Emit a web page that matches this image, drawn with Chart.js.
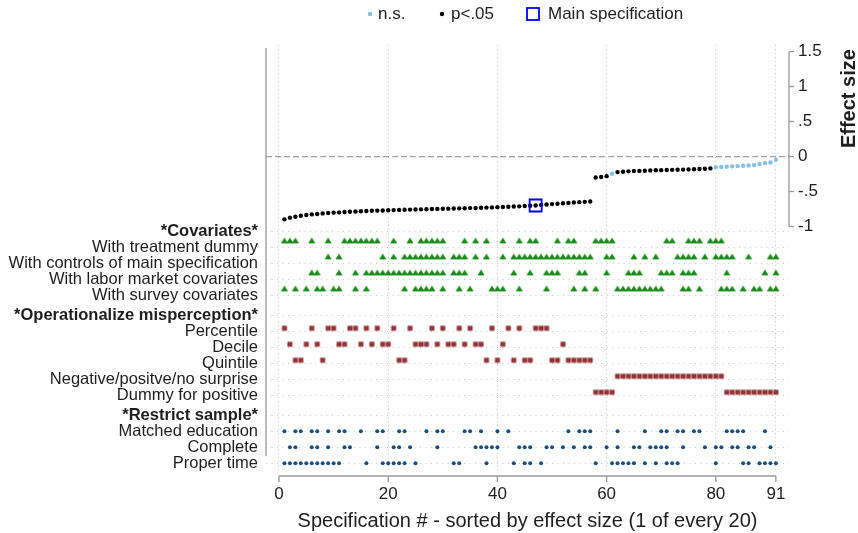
<!DOCTYPE html>
<html>
<head>
<meta charset="utf-8">
<script src="https://cdn.jsdelivr.net/npm/chart.js@4.4.1/dist/chart.umd.min.js"></script>
<style>
html,body{margin:0;padding:0;background:#fff;}
#wrap{width:858px;height:533px;}
</style>
</head>
<body>
<div id="wrap"><canvas id="chart" width="858" height="533"></canvas></div>
<script>
// ---------------- DATA ----------------
// Effect size of each specification, sorted (spec # 1..91)
const effectSize = [
  -0.895, -0.871, -0.857, -0.843, -0.833, -0.824, -0.818, -0.810, -0.804, -0.799,
  -0.795, -0.790, -0.786, -0.782, -0.779, -0.776, -0.773, -0.770, -0.768, -0.765,
  -0.763, -0.760, -0.758, -0.756, -0.754, -0.752, -0.750, -0.748, -0.746, -0.744,
  -0.742, -0.740, -0.738, -0.736, -0.734, -0.732, -0.730, -0.727, -0.724, -0.721,
  -0.718, -0.715, -0.712, -0.709, -0.705, -0.701, -0.697, -0.690, -0.683, -0.677,
  -0.671, -0.664, -0.660, -0.654, -0.649, -0.645, -0.640, -0.296, -0.290, -0.278,
  -0.244, -0.220, -0.215, -0.209, -0.205, -0.203, -0.200, -0.197, -0.194, -0.192,
  -0.190, -0.188, -0.186, -0.184, -0.181, -0.179, -0.176, -0.172, -0.167, -0.150,
  -0.146, -0.142, -0.138, -0.134, -0.129, -0.124, -0.118, -0.104, -0.091, -0.082,
  -0.045
];
// specifications that are not significant (n.s.)
const notSignificantSpecs = [61, 80, 81, 82, 83, 84, 85, 86, 87, 88, 89, 90, 91];
const mainSpecification = 47;

const xTickValues = [0, 20, 40, 60, 80, 91];
const effectTickValues = [-1, -0.5, 0, 0.5, 1, 1.5];

const rowLabels = [
  "*Covariates*", "With treatment dummy", "With controls of main specification",
  "With labor market covariates", "With survey covariates",
  "*Operationalize misperception*", "Percentile", "Decile", "Quintile",
  "Negative/positve/no surprise", "Dummy for positive",
  "*Restrict sample*", "Matched education", "Complete", "Proper time"
];
const headerRows = [0, 5, 11];

// specs in which each option is used
const withTreatmentDummy = [1,2,3,6,9,12,13,14,15,16,17,18,21,24,26,27,28,29,30,34,36,38,41,44,46,47,51,53,54,58,59,60,61,71,72,75,76,77,79,80,81];
const withControlsMain = [9,11,19,21,23,24,25,26,27,28,29,30,32,33,34,36,38,41,43,44,45,46,47,48,49,50,51,52,53,54,55,56,57,60,61,65,67,69,73,74,75,76,78,80,81,82,83,86,90,91];
const withLaborMarket = [6,7,11,14,16,17,18,19,20,21,22,23,24,25,26,27,28,29,30,32,33,34,37,43,46,49,50,51,55,56,60,64,65,66,70,71,72,74,75,76,82,89,91];
const withSurvey = [1,3,5,7,8,10,11,14,16,23,25,26,27,28,30,33,35,39,40,41,44,49,54,56,58,62,63,64,65,66,67,68,69,70,74,75,77,81,82,83,85,87,88,90,91];
const percentile = [1,6,9,10,13,14,16,18,21,24,28,30,33,35,39,42,44,47,48,49];
const decile = [2,5,7,11,12,15,17,19,20,25,26,27,29,31,32,34,36,37,41,52];
const quintile = [3,4,8,22,23,38,40,43,45,46,50,51,53,54,55,56,57];
const negPosNoSurprise = [62,63,64,65,66,67,68,69,70,71,72,73,74,75,76,77,78,79,80,81];
const dummyPositive = [58,59,60,61,82,83,84,85,86,87,88,89,90,91];
const matchedEducation = [1,3,4,6,7,9,11,12,15,18,19,22,23,27,29,30,34,35,37,40,42,53,55,56,57,62,67,70,71,73,74,76,77,82,83,84,85,89];
const completeSample = [2,3,6,7,9,12,13,18,21,22,24,29,36,37,38,39,40,44,45,46,49,50,52,54,56,57,60,62,65,66,68,69,70,71,74,78,80,81,83,84,86,87,90];
const properTime = [1,2,3,4,5,6,7,8,9,10,11,16,19,20,21,22,23,25,32,33,38,43,45,46,48,58,61,62,63,64,65,67,69,71,72,73,80,85,86,88,89,90,91];

// ---------------- LAYOUT / STYLE ----------------
const FONT = "'Liberation Sans', Arial, Helvetica, sans-serif";
const TEXT = '#1e1e1e';
const AXIS = '#9a9a9a';
const GRID = '#c6c6c6';
const C_NS = '#86c0ea', C_SIG = '#000000', C_MAIN = '#0000ff';
const C_GREEN = '#138a13', C_RED = '#933238', C_NAVY = '#1d4f7c';

const Y_MIN = -4.476, Y_MAX = 1.596;
const X_MIN = -2.38, X_MAX = 93.4;
const ROW_TOP = -1.066, ROW_STEP = 0.2286, GROUP_GAP = 0.25;

// vertical position (axis units) of every label row
const rowY = (() => {
  const out = []; let slot = 0;
  rowLabels.forEach((_, k) => {
    if (k > 0) slot += 1 + (headerRows.includes(k) ? GROUP_GAP : 0);
    out.push(ROW_TOP - slot * ROW_STEP);
  });
  return out;
})();

function markerCanvas(w, h, draw) {
  const c = document.createElement('canvas');
  c.width = w; c.height = h;
  draw(c.getContext('2d'));
  return c;
}
// triangles sit a little above their row line, squares slightly above
const triImg = markerCanvas(10, 24, g => {
  g.fillStyle = C_GREEN; g.beginPath();
  g.moveTo(5, 2.2); g.lineTo(8.6, 8.0); g.lineTo(1.4, 8.0); g.closePath(); g.fill();
});
const sqImg = markerCanvas(8, 14, g => {
  g.fillStyle = C_RED; g.fillRect(1.5, 1.4, 5, 5);
});

const indicatorRows = [
  {row: 1, specs: withTreatmentDummy, style: 'tri'},
  {row: 2, specs: withControlsMain, style: 'tri'},
  {row: 3, specs: withLaborMarket, style: 'tri'},
  {row: 4, specs: withSurvey, style: 'tri'},
  {row: 6, specs: percentile, style: 'sq'},
  {row: 7, specs: decile, style: 'sq'},
  {row: 8, specs: quintile, style: 'sq'},
  {row: 9, specs: negPosNoSurprise, style: 'sq'},
  {row: 10, specs: dummyPositive, style: 'sq'},
  {row: 12, specs: matchedEducation, style: 'dot'},
  {row: 13, specs: completeSample, style: 'dot'},
  {row: 14, specs: properTime, style: 'dot'}
];

const datasets = [];
// main specification (drawn on top -> first)
datasets.push({
  label: 'Main specification',
  data: [{x: mainSpecification, y: effectSize[mainSpecification - 1]}],
  pointStyle: 'rect', pointRadius: 8.5, pointBorderWidth: 1.8,
  pointBorderColor: C_MAIN, pointBackgroundColor: 'rgba(0,0,0,0)'
});
const sigPts = [], nsPts = [];
effectSize.forEach((v, i) => {
  const p = {x: i + 1, y: v};
  (notSignificantSpecs.includes(i + 1) ? nsPts : sigPts).push(p);
});
datasets.push({label: 'p<.05', data: sigPts, pointStyle: 'circle', pointRadius: 2.2,
  pointBorderWidth: 0, pointBackgroundColor: C_SIG});
datasets.push({label: 'n.s.', data: nsPts, pointStyle: 'circle', pointRadius: 2.2,
  pointBorderWidth: 0, pointBackgroundColor: C_NS});
indicatorRows.forEach(r => {
  const ds = {label: rowLabels[r.row], data: r.specs.map(s => ({x: s, y: rowY[r.row]}))};
  if (r.style === 'tri') Object.assign(ds, {pointStyle: triImg});
  else if (r.style === 'sq') Object.assign(ds, {pointStyle: sqImg});
  else Object.assign(ds, {pointStyle: 'circle', pointRadius: 2, pointBorderWidth: 0, pointBackgroundColor: C_NAVY});
  datasets.push(ds);
});

const fmtEffect = v => {
  if (v === 0) return '0';
  const s = String(Math.abs(v)).replace(/^0\./, '.');
  return (v < 0 ? '-' : '') + s;
};

const decor = {
  id: 'decor',
  beforeDatasetsDraw(chart) {
    const {ctx, chartArea: a, scales: {y}} = chart;
    const y0 = y.getPixelForValue(0);
    ctx.save();
    ctx.strokeStyle = '#8a8a8a'; ctx.lineWidth = 1; ctx.setLineDash([6, 3]);
    ctx.beginPath(); ctx.moveTo(a.left, y0); ctx.lineTo(a.right, y0); ctx.stroke();
    ctx.restore();
  },
  afterDraw(chart) {
    const {ctx, chartArea: a, scales: {x, y}} = chart;
    ctx.save();
    ctx.strokeStyle = AXIS; ctx.lineWidth = 1.3; ctx.setLineDash([]);
    ctx.beginPath();
    // left axis line
    ctx.moveTo(a.left, a.top + 3); ctx.lineTo(a.left, a.bottom - 14);
    // right axis line (effect size range)
    ctx.moveTo(a.right, y.getPixelForValue(effectTickValues[0]));
    ctx.lineTo(a.right, y.getPixelForValue(effectTickValues[effectTickValues.length - 1]));
    // x axis line + ticks
    const ya = a.bottom + 6;
    ctx.moveTo(x.getPixelForValue(xTickValues[0]), ya);
    ctx.lineTo(x.getPixelForValue(xTickValues[xTickValues.length - 1]), ya);
    xTickValues.forEach(v => { const px = x.getPixelForValue(v); ctx.moveTo(px, ya); ctx.lineTo(px, ya + 6); });
    ctx.stroke();

    // right axis title
    ctx.fillStyle = TEXT;
    ctx.font = 'bold 20px ' + FONT;
    ctx.translate(855, y.getPixelForValue(0.83));
    ctx.rotate(-Math.PI / 2);
    ctx.textAlign = 'center'; ctx.textBaseline = 'alphabetic';
    ctx.fillText('Effect size', 0, 0);
    ctx.restore();

    // legend
    ctx.save();
    const ly = 14;
    ctx.font = '17px ' + FONT; ctx.fillStyle = TEXT;
    ctx.textAlign = 'left'; ctx.textBaseline = 'middle';
    ctx.fillStyle = C_NS; ctx.beginPath(); ctx.arc(370, ly, 2.2, 0, Math.PI * 2); ctx.fill();
    ctx.fillStyle = TEXT; ctx.fillText('n.s.', 378, ly);
    ctx.fillStyle = C_SIG; ctx.beginPath(); ctx.arc(442, ly, 2.2, 0, Math.PI * 2); ctx.fill();
    ctx.fillStyle = TEXT; ctx.fillText('p<.05', 451, ly);
    ctx.strokeStyle = C_MAIN; ctx.lineWidth = 1.8; ctx.strokeRect(527, ly - 6, 12, 12);
    ctx.fillText('Main specification', 548, ly);
    ctx.restore();
  }
};

Chart.defaults.font.family = FONT;
Chart.defaults.color = TEXT;

new Chart(document.getElementById('chart'), {
  type: 'scatter',
  data: {datasets},
  options: {
    responsive: false, animation: false, devicePixelRatio: 1,
    layout: {padding: {top: 45, left: 0, right: 0, bottom: 0}},
    plugins: {legend: {display: false}, tooltip: {enabled: false}},
    elements: {point: {hoverRadius: 0}},
    scales: {
      x: {
        type: 'linear', position: 'bottom', min: X_MIN, max: X_MAX,
        afterBuildTicks: s => { s.ticks = xTickValues.map(v => ({value: v})); },
        ticks: {callback: v => String(v), font: {size: 17}, padding: 14.5, autoSkip: false, maxRotation: 0, color: TEXT},
        grid: {color: GRID, lineWidth: 1, drawTicks: false, drawOnChartArea: true},
        border: {display: false, dash: [1, 3]},
        title: {display: true, text: 'Specification # - sorted by effect size (1 of every 20)',
          font: {size: 20}, color: TEXT, padding: {top: 0, bottom: 0}},
        afterFit: s => { s.height = 63; }
      },
      yRows: {
        type: 'linear', position: 'left', min: Y_MIN, max: Y_MAX,
        afterBuildTicks: s => {
          s.ticks = rowY.map((v, k) => ({value: v, row: k})).sort((a, b) => a.value - b.value);
        },
        ticks: {
          autoSkip: false, padding: 8, color: TEXT,
          callback: (v, i, ticks) => rowLabels[ticks[i].row],
          font: c => ({size: 16.5, family: FONT,
            weight: (c.tick && headerRows.includes(c.tick.row)) ? 'bold' : 'normal'})
        },
        grid: {color: GRID, lineWidth: 1, drawTicks: false, drawOnChartArea: true},
        border: {display: false, dash: [1, 4.5]},
        afterFit: s => { s.width = 266; }
      },
      y: {
        type: 'linear', position: 'right', min: Y_MIN, max: Y_MAX,
        afterBuildTicks: s => { s.ticks = effectTickValues.map(v => ({value: v})); },
        ticks: {autoSkip: false, padding: 4, font: {size: 17}, color: TEXT, callback: v => fmtEffect(v)},
        grid: {drawOnChartArea: false, drawTicks: true, tickLength: 5, tickColor: AXIS, tickWidth: 1.3},
        border: {display: false},
        afterFit: s => { s.width = 69; }
      }
    }
  },
  plugins: [decor]
});
</script>
</body>
</html>
